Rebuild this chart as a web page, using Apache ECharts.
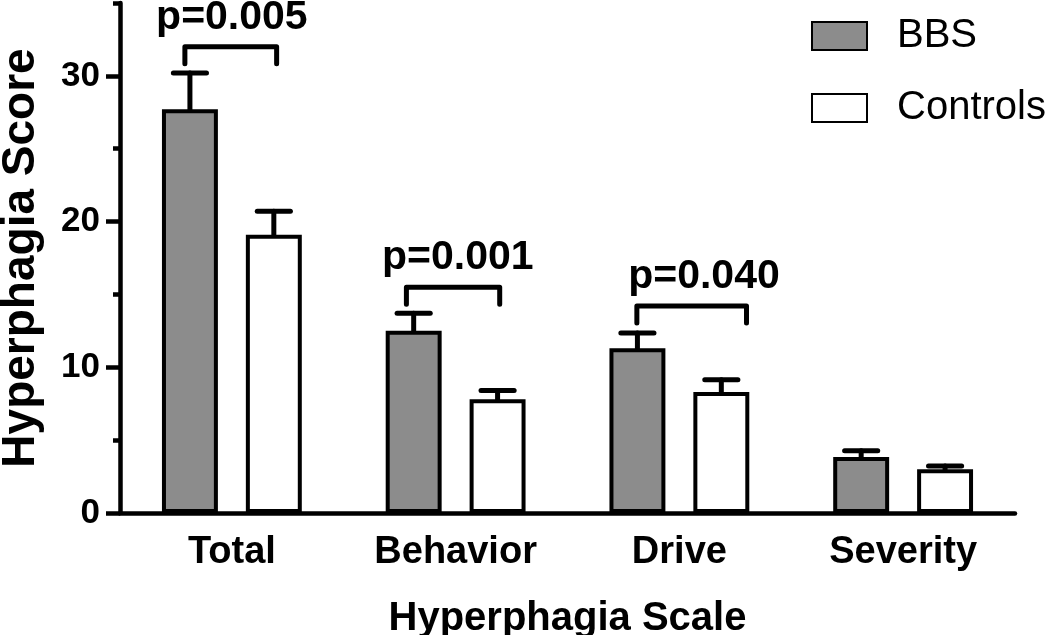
<!DOCTYPE html>
<html>
<head>
<meta charset="utf-8">
<script src="https://cdn.jsdelivr.net/npm/echarts@6/dist/echarts.min.js"></script>
<style>html,body{margin:0;padding:0;background:#fff;}#c{width:1050px;height:635px;}</style>
</head>
<body>
<div id="c"></div>
<script>
// ---- data ----
const categories = ['Total', 'Behavior', 'Drive', 'Severity'];
const seriesNames = ['BBS', 'Controls'];
const bbsMean = [27.7, 12.5, 11.3, 3.85];
const bbsSem = [2.5, 1.2, 1.05, 0.42];
const ctrlMean = [19.1, 7.8, 8.3, 3.0];
const ctrlSem = [1.6, 0.6, 0.85, 0.23];
const yMajorTicks = [0, 10, 20, 30];
const yMinorTicks = [5, 15, 25, 35];
const sigCategory = [0, 1, 2];
const sigLevel = [32.0, 15.5, 14.2];
const sigLabel = ['p=0.005', 'p=0.001', 'p=0.040'];

// ---- layout constants (annotation geometry, in band fractions) ----
const BAR_W = 0.25, BAR_GAP = 0.5;
const barOffset = BAR_W * (1 + BAR_GAP) / 2;
const bracketSpan = [[-0.21, 0.20], [-0.22, 0.197], [-0.19, 0.30]];
const labelShift = [0, 0.01, 0.11];
const FONT = 'Liberation Sans, Arial, Helvetica, sans-serif';

const chart = echarts.init(document.getElementById('c'), null, {renderer: 'canvas'});

function errRender(side) {
  return function (params, api) {
    const band = api.size([1, 0])[0];
    const p0 = api.coord([api.value(0), api.value(1)]);
    const p1 = api.coord([api.value(0), api.value(2)]);
    const x = p0[0] + side * barOffset * band;
    const capHalf = band * 0.074;
    const style = {stroke: '#000', lineWidth: 5, lineCap: 'round'};
    return {
      type: 'group',
      children: [
        {type: 'line', shape: {x1: x, y1: p0[1], x2: x, y2: p1[1]}, style: style},
        {type: 'line', shape: {x1: x - capHalf, y1: p1[1], x2: x + capHalf, y2: p1[1]}, style: style}
      ]
    };
  };
}

const option = {
  animation: false,
  backgroundColor: '#fff',
  grid: {left: 120, right: 35, top: 3, bottom: 122, containLabel: false, outerBoundsMode: 'none'},
  legend: {
    data: seriesNames,
    orient: 'vertical',
    left: 811,
    top: 16,
    padding: 0,
    itemWidth: 55,
    itemHeight: 28,
    itemGap: 32,
    icon: 'rect',
    textStyle: {fontSize: 40, fontFamily: FONT, color: '#000', padding: [0, 0, 0, 25]}
  },
  xAxis: {
    type: 'category',
    data: categories,
    name: 'Hyperphagia Scale',
    nameLocation: 'middle',
    nameGap: 86,
    nameTextStyle: {fontSize: 40, fontWeight: 'bold', fontFamily: FONT, color: '#000'},
    axisLine: {lineStyle: {color: '#000', width: 4.5}},
    axisTick: {alignWithLabel: true, length: 14, lineStyle: {color: '#000', width: 4.5}},
    axisLabel: {fontSize: 38, fontWeight: 'bold', fontFamily: FONT, color: '#000', margin: 21}
  },
  yAxis: [{
    type: 'value',
    min: 0, max: 35,
    name: 'Hyperphagia Score',
    nameLocation: 'middle',
    nameRotate: 90,
    nameGap: 76,
    nameTextStyle: {fontSize: 46, fontWeight: 'bold', fontFamily: FONT, color: '#000'},
    axisLine: {show: true, lineStyle: {color: '#000', width: 4.5}},
    axisTick: {show: true, length: 14, customValues: yMajorTicks, lineStyle: {color: '#000', width: 4.5}},
    axisLabel: {customValues: yMajorTicks, fontSize: 35, fontWeight: 'bold', fontFamily: FONT, color: '#000', margin: 20},
    splitLine: {show: false}
  }, {
    type: 'value',
    min: 0, max: 35,
    position: 'left',
    axisLine: {show: false},
    axisTick: {show: true, length: 7, customValues: yMinorTicks, lineStyle: {color: '#000', width: 4.5}},
    axisLabel: {show: false},
    splitLine: {show: false}
  }],
  series: [
    {
      name: 'BBS', type: 'bar', data: bbsMean,
      barWidth: (BAR_W * 100) + '%', barGap: (BAR_GAP * 100) + '%',
      itemStyle: {color: '#8c8c8c', borderColor: '#000', borderWidth: 4},
      z: 3
    },
    {
      name: 'Controls', type: 'bar', data: ctrlMean,
      barWidth: (BAR_W * 100) + '%', barGap: (BAR_GAP * 100) + '%',
      itemStyle: {color: '#ffffff', borderColor: '#000', borderWidth: 4},
      z: 3
    },
    {
      type: 'custom', name: 'errBBS', z: 2,
      renderItem: errRender(-1),
      data: bbsMean.map((m, i) => [i, m, m + bbsSem[i]])
    },
    {
      type: 'custom', name: 'errCtrl', z: 2,
      renderItem: errRender(1),
      data: ctrlMean.map((m, i) => [i, m, m + ctrlSem[i]])
    },
    {
      type: 'custom', name: 'sig', z: 4,
      renderItem: function (params, api) {
        const k = params.dataIndex;
        const band = api.size([1, 0])[0];
        const p = api.coord([api.value(0), api.value(1)]);
        const xl = p[0] + bracketSpan[k][0] * band;
        const xr = p[0] + bracketSpan[k][1] * band;
        const yt = p[1];
        const yb = yt + 17;
        const style = {stroke: '#000', lineWidth: 5, lineCap: 'round', lineJoin: 'round', fill: null};
        return {
          type: 'group',
          children: [
            {type: 'polyline', shape: {points: [[xl, yb], [xl, yt], [xr, yt], [xr, yb]]}, style: style},
            {type: 'text', style: {
              text: sigLabel[k], x: p[0] + labelShift[k] * band, y: yt - 9,
              align: 'center', verticalAlign: 'bottom',
              font: 'bold 41px ' + FONT, fill: '#000'
            }}
          ]
        };
      },
      data: sigCategory.map((c, i) => [c, sigLevel[i]])
    }
  ]
};
chart.setOption(option);
</script>
</body>
</html>
